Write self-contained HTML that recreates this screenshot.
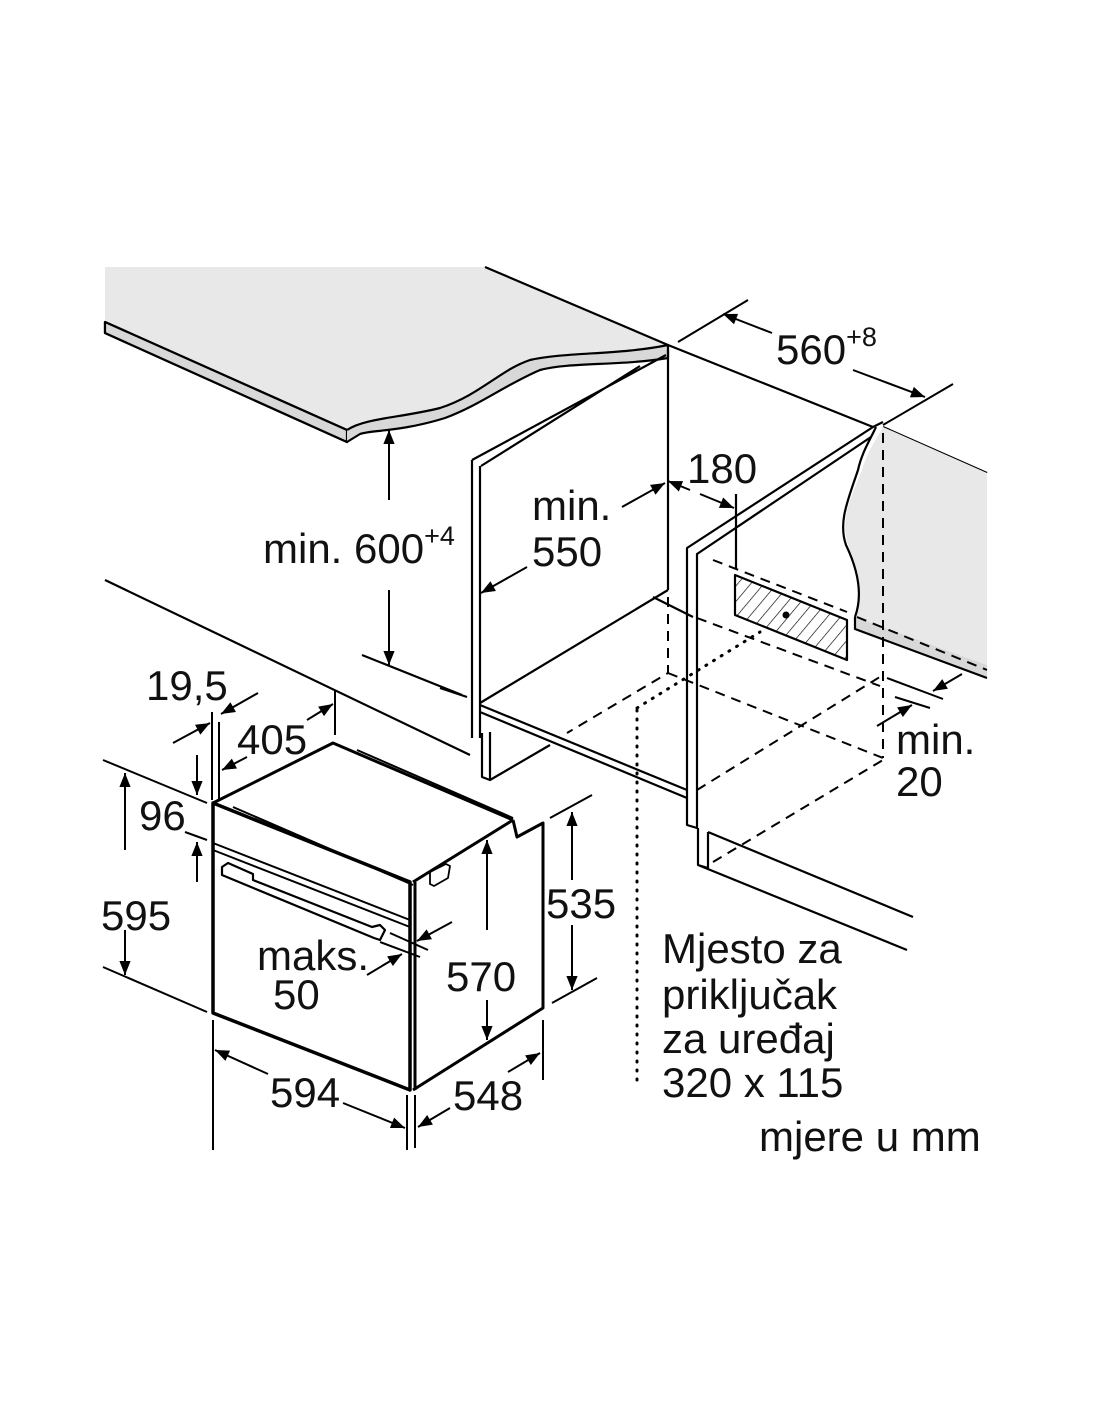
<!DOCTYPE html>
<html><head><meta charset="utf-8"><style>
html,body{margin:0;padding:0;background:#fff}
svg{display:block}
text{font-family:"Liberation Sans",sans-serif;fill:#111}
</style></head><body>
<svg width="1100" height="1422" viewBox="0 0 1100 1422" xmlns="http://www.w3.org/2000/svg">
<defs>
<marker id="b" viewBox="0 0 10 10" refX="10" refY="5" markerWidth="22" markerHeight="14" markerUnits="userSpaceOnUse" orient="auto"><path d="M0,1 L10,5 L0,9 z" fill="#000"/></marker>
<pattern id="h" width="10" height="10" patternUnits="userSpaceOnUse" patternTransform="rotate(40)"><line x1="0" y1="0" x2="0" y2="10" stroke="#000" stroke-width="1.3"/></pattern>
</defs>
<g stroke="#000" stroke-width="2.2" fill="none" stroke-linejoin="round">
<path d="M105,267 L485,267 L668,345 C640,352 610,350 560,355 C520,362 495,385 460,400 C420,418 380,418 360,422 L347,430 L105,322 Z" fill="#e8e8e8" stroke="none"/>
<path d="M485,267 L668,345 M105,322 L347,430 M105,322 L105,333 L347,442 L347,430" />
<path d="M105,322 L105,333 L347,442 L347,430 Z" fill="#d8d8d8"/>
<path d="M347,430 C365,418 400,418 440,408 C480,395 500,370 530,360 C565,352 620,355 668,345 L668,358 C620,366 570,362 540,370 C505,385 480,405 445,418 C400,432 370,430 360,434 L347,442" fill="#d8d8d8"/>
<path d="M668,350 L668,590 M666,355 L472,460 M640,366 L481,466 M472,460 L472,738 M480,466 L480,738"/>
<path d="M668,590 L480,703 M653,597 L693,617 M482,733 L482,777 L490,780 L490,732 M490,780 L550,745"/>
<path d="M105,580 L470,755 M362,655 L462,695 M480,705 L687,790 M480,712 L687,798 M440,688 L467,697"/>
<path d="M668,345 L873,427"/>
<path d="M873,427 L687,548 L687,825 L697,828 L697,554 L871,437"/>
<path d="M698,828 L698,865 L708,868 L708,832 M698,865 L907,950 M708,832 L913,917"/>
<path d="M883,427 L987,473 M873,427 L883,422"/>
<path d="M883,427 C876,440 868,450 862,470 C850,500 840,520 848,545 C858,570 865,590 855,617 L987,665 L987,473 Z" fill="#e8e8e8" stroke="none"/>
<path d="M876,427 C870,440 862,452 858,470 C848,500 838,522 846,545 C858,570 863,595 855,617"/>
<path d="M855,617 L855,629 L987,678 L987,665 Z" fill="#d8d8d8" stroke="none"/>
<path d="M855,617 L855,629 L987,678"/>
<path d="M735,575 L847,620 L847,660 L735,615 Z" fill="url(#h)"/>
<circle cx="786" cy="615" r="3.5" fill="#000" stroke="none"/>
<path d="M736,494 L736,569"/>
</g>
<g stroke="#000" stroke-width="2" fill="none" stroke-dasharray="10,7">
<path d="M668,597 L668,673 L567,733 M668,673 L883,758 M697,790 L883,675 M713,862 L883,760 M883,433 L883,758 M697,618 L880,686 M713,560 L847,612 M857,617 L987,670"/>
</g>
<g stroke="#000" stroke-width="3" fill="none" stroke-dasharray="1,8" stroke-linecap="round">
<path d="M637,710 L637,1080 M637,708 L760,632"/>
</g>
<g stroke="#000" fill="none" stroke-linejoin="round">
<path d="M213,803 L213,1013 L410,1090 L410,882 Z" stroke-width="3.5"/>
<path d="M213,803 L333,743 L513,820 M415,882 L415,1090 M413,1090 L543,1008 L543,823 L517,837 L513,820 M413,882 L513,820" stroke-width="3"/>
<path d="M357,750 L513,818 M233,807 L413,885 M213,843 L410,920 M213,850 L410,927" stroke-width="2"/>
<path d="M222,867 L228,863 L253,874 L253,880 L372,927 L380,925 L385,930 L380,940 L374,938 L222,875 Z" stroke-width="2.2"/>
<path d="M430,872 L446,864 L450,866 L448,878 L434,886 L430,884 Z" stroke-width="1.8"/>
</g>
<g stroke="#000" stroke-width="2" fill="none">
<path d="M389,500 L389,430" marker-end="url(#b)"/><path d="M389,590 L389,665" marker-end="url(#b)"/>
<path d="M622,507 L665,483" marker-end="url(#b)"/><path d="M527,567 L481,593" marker-end="url(#b)"/>
<path d="M690,490 L668,481" marker-end="url(#b)"/><path d="M700,494 L734,508" marker-end="url(#b)"/>
<path d="M678,342 L748,300 M883,425 L953,384"/>
<path d="M772,333 L723,314" marker-end="url(#b)"/><path d="M853,370 L925,397" marker-end="url(#b)"/>
<path d="M887,678 L943,699 M895,697 L930,708"/>
<path d="M962,674 L933,691" marker-end="url(#b)"/><path d="M877,726 L912,705" marker-end="url(#b)"/>
<path d="M212,712 L212,800 M219,722 L219,800"/>
<path d="M173,743 L210,723" marker-end="url(#b)"/><path d="M258,693 L221,714" marker-end="url(#b)"/>
<path d="M335,690 L335,735"/>
<path d="M247,757 L222,770" marker-end="url(#b)"/><path d="M307,720 L333,704" marker-end="url(#b)"/>
<path d="M103,760 L207,803 M103,967 L207,1012"/>
<path d="M125,850 L125,773" marker-end="url(#b)"/><path d="M125,930 L125,975" marker-end="url(#b)"/>
<path d="M185,832 L207,840"/>
<path d="M197,755 L197,795" marker-end="url(#b)"/><path d="M197,882 L197,842" marker-end="url(#b)"/>
<path d="M390,933 L428,950 M380,942 L420,957"/>
<path d="M452,922 L417,941" marker-end="url(#b)"/><path d="M367,975 L402,954" marker-end="url(#b)"/>
<path d="M487,930 L487,840" marker-end="url(#b)"/><path d="M487,1000 L487,1040" marker-end="url(#b)"/>
<path d="M550,818 L592,795 M552,1003 L597,978"/>
<path d="M572,880 L572,812" marker-end="url(#b)"/><path d="M572,925 L572,990" marker-end="url(#b)"/>
<path d="M213,1020 L213,1150 M407,1095 L407,1150"/>
<path d="M268,1074 L215,1050" marker-end="url(#b)"/><path d="M343,1103 L405,1128" marker-end="url(#b)"/>
<path d="M415,1095 L415,1148 M543,1020 L543,1080"/>
<path d="M450,1108 L418,1127" marker-end="url(#b)"/><path d="M508,1072 L540,1053" marker-end="url(#b)"/>
</g>
<g font-size="42">
<text x="263" y="563">min. 600<tspan font-size="27" dy="-18">+4</tspan></text>
<text x="532" y="520">min.</text>
<text x="532" y="566">550</text>
<text x="687" y="483">180</text>
<text x="776" y="364">560<tspan font-size="27" dy="-18">+8</tspan></text>
<text x="896" y="754">min.</text>
<text x="896" y="796">20</text>
<text x="146" y="700">19,5</text>
<text x="237" y="754">405</text>
<text x="139" y="830">96</text>
<text x="101" y="930">595</text>
<text x="257" y="970">maks.</text>
<text x="273" y="1009">50</text>
<text x="446" y="991">570</text>
<text x="546" y="918">535</text>
<text x="270" y="1107">594</text>
<text x="453" y="1110">548</text>
<text x="662" y="963">Mjesto za</text>
<text x="662" y="1009">priključak</text>
<text x="662" y="1053">za uređaj</text>
<text x="662" y="1097">320 x 115</text>
<text x="759" y="1151">mjere u mm</text>
</g>
</svg>
</body></html>
